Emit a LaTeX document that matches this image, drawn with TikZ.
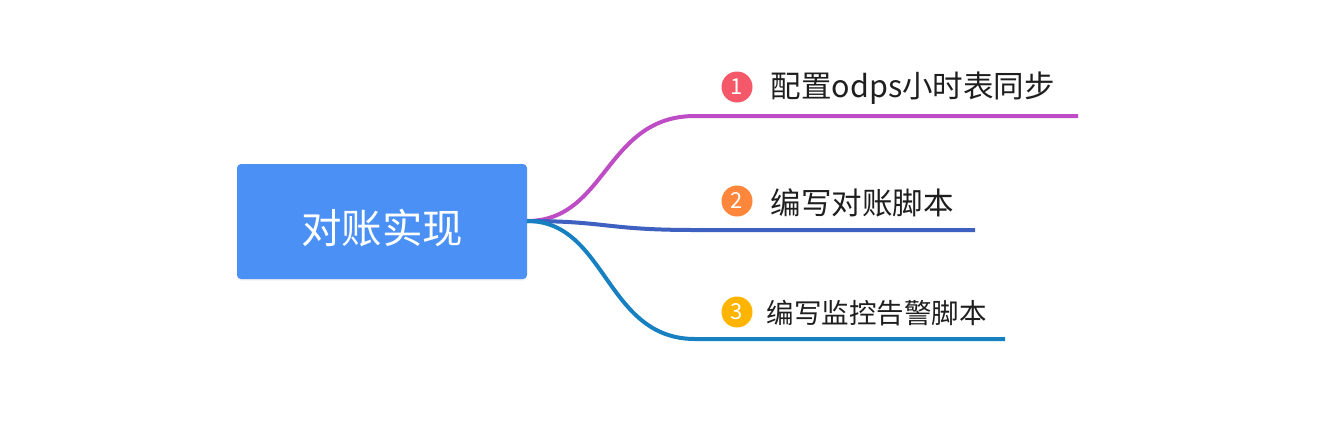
\documentclass[tikz,border=0pt]{standalone}
\usepackage{fontspec}
\setmainfont{Noto Sans CJK SC}
\usepackage{tikz}
\usetikzlibrary{positioning, shadows}
\definecolor{rootbg}{RGB}{74,144,245}
\definecolor{lineone}{RGB}{190,76,196}
\definecolor{linetwo}{RGB}{62,96,193}
\definecolor{linethree}{RGB}{22,128,192}
\definecolor{dotone}{RGB}{245,88,104}
\definecolor{dottwo}{RGB}{255,135,60}
\definecolor{dotthree}{RGB}{255,180,0}
\definecolor{labeltext}{RGB}{30,30,30}

\begin{document}
\begin{tikzpicture}[x=1pt, y=-1pt,
    root/.style={rectangle, rounded corners=4pt, fill=rootbg, minimum width=290pt, minimum height=115pt, inner sep=0pt, text height=43pt, text depth=0pt, text=white, font=\fontsize{40.5}{42}\selectfont, drop shadow={shadow xshift=0pt, shadow yshift=-1.5pt, opacity=0.12}},
    badge/.style={circle, minimum size=31pt, inner sep=0pt, text=white, font=\fontsize{22}{24}\selectfont},
    topic/.style={anchor=west, inner sep=0pt, text=labeltext, font=\fontsize{30.5}{32}\selectfont},
    branch/.style={line width=4pt, line cap=butt}
]
    \useasboundingbox (0,0) rectangle (1340,421);

    % Root
    \node[root] (root) at (382,221.5) {对账实现};
    \coordinate (hub) at (527,221);

    % Badges and topics
    \node[badge, fill=dotone] (n1) at (737,87) {1};
    \node[topic, right=18pt of n1, yshift=-1.5pt] (t1) {配置odps小时表同步};
    \node[badge, fill=dottwo] (n2) at (737,201) {2};
    \node[topic, right=18pt of n2, yshift=-1.5pt] (t2) {编写对账脚本};
    \node[badge, fill=dotthree] (n3) at (737,312) {3};
    \node[topic, right=14pt of n3, yshift=-1pt, font=\fontsize{27.5}{29}\selectfont] (t3) {编写监控告警脚本};

    % Branch ends
    \coordinate (a1) at (695,116);
    \coordinate (b1) at (1078,116);
    \coordinate (a2) at (695,230);
    \coordinate (b2) at (975,230);
    \coordinate (a3) at (695,339);
    \coordinate (b3) at (1005,339);

    % Branches
    \draw[branch, lineone] (hub) .. controls ++(80,0) and ++(-90,0) .. (a1) -- (b1);
    \draw[branch, linetwo] (hub) .. controls ++(80,0) and ++(-90,0) .. (a2) -- (b2);
    \draw[branch, linethree] (hub) .. controls ++(80,0) and ++(-90,0) .. (a3) -- (b3);
\end{tikzpicture}
\end{document}
